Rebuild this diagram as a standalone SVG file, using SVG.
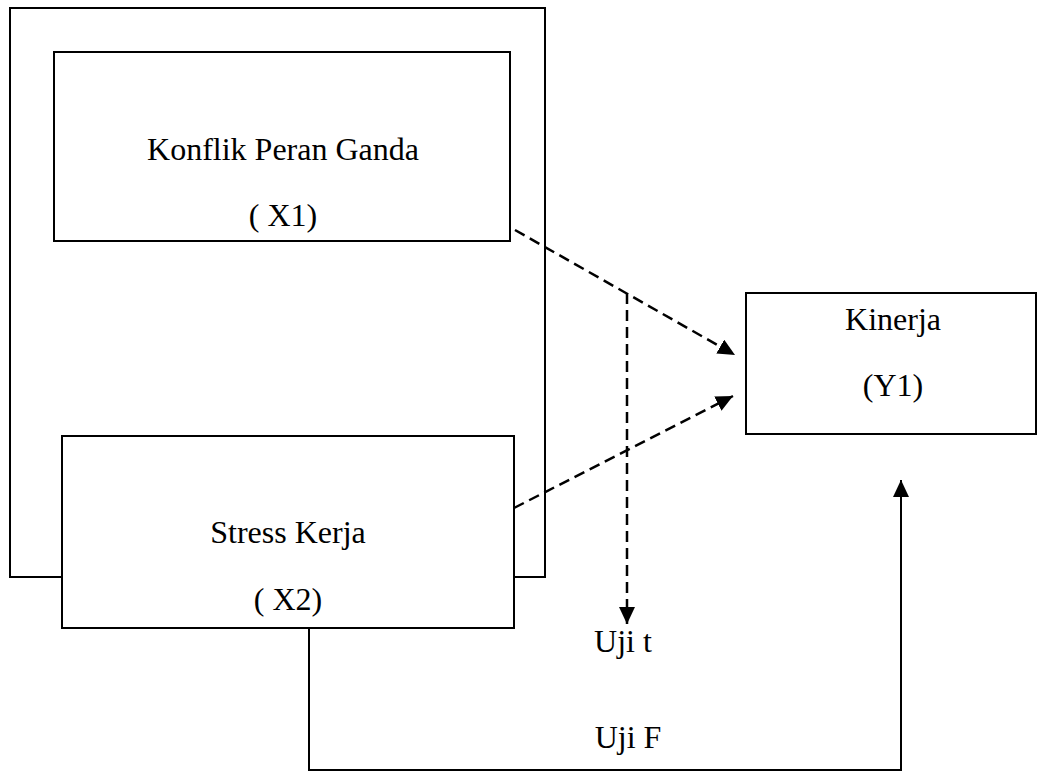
<svg xmlns="http://www.w3.org/2000/svg" width="1039" height="772" viewBox="0 0 1039 772">
<style>
.box{fill:#fff;stroke:#000;stroke-width:2}
.t{font-family:"Liberation Serif","Times New Roman",serif;font-size:32px;fill:#000;text-anchor:middle}
.dash{fill:none;stroke:#000;stroke-width:2.5;stroke-dasharray:11 6}
.solid{fill:none;stroke:#000;stroke-width:2}
</style>
<defs>
<marker id="ah" markerUnits="userSpaceOnUse" markerWidth="18" markerHeight="16" refX="17" refY="8" orient="auto">
<path d="M0,0 L17,8 L0,16 Z" fill="#000"/>
</marker>
</defs>
<rect width="1039" height="772" fill="#fff"/>
<g id="frame"><rect class="box" x="10" y="8" width="535" height="569"/></g>
<g id="x1">
<rect class="box" x="54" y="52" width="456" height="189"/>
<text class="t" x="283" y="160">Konflik Peran Ganda</text>
<text class="t" x="283" y="226">( X1)</text>
</g>
<g id="x2">
<rect class="box" x="62" y="436" width="452" height="192"/>
<text class="t" x="288" y="543">Stress Kerja</text>
<text class="t" x="288" y="610">( X2)</text>
</g>
<g id="y1">
<rect class="box" x="746" y="293" width="290" height="141"/>
<text class="t" x="893" y="330">Kinerja</text>
<text class="t" x="893" y="396">(Y1)</text>
</g>
<g id="connectors">
<line class="dash" x1="515" y1="230" x2="735" y2="355" marker-end="url(#ah)"/>
<line class="dash" x1="514" y1="508" x2="733" y2="396" marker-end="url(#ah)"/>
<line class="dash" x1="627" y1="293" x2="627" y2="624" marker-end="url(#ah)"/>
<polyline class="solid" points="309,628 309,770 901,770 901,480" marker-end="url(#ah)"/>
</g>
<g id="labels">
<text class="t" x="623" y="652">Uji t</text>
<text class="t" x="628" y="748">Uji F</text>
</g>
</svg>
